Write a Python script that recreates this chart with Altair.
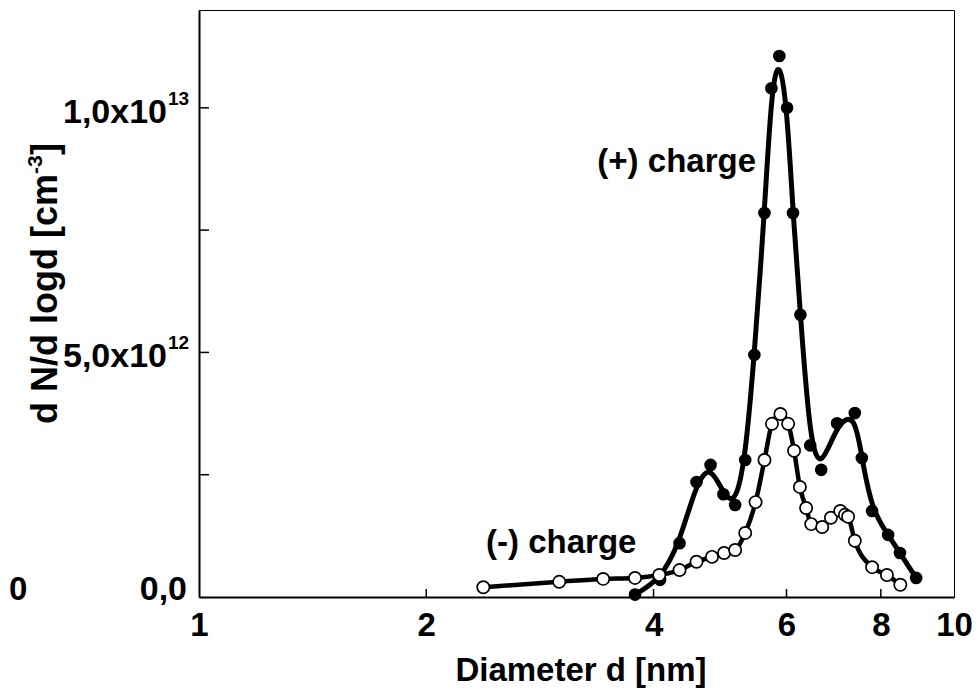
import altair as alt
import pandas as pd

# ---- data ----
# (+) charge: diameter [nm] and dN/dlogd [1e12 cm^-3]
pos_d = [3.78, 4.08, 4.33, 4.56, 4.76, 4.95, 5.13, 5.29, 5.44, 5.61, 5.73, 5.87,
         6.01, 6.12, 6.26, 6.45, 6.67, 7.00, 7.39, 7.55, 7.79, 8.18, 8.48, 8.91]
pos_v = [0.05, 0.35, 1.10, 2.35, 2.70, 2.10, 1.88, 2.80, 4.95, 7.85, 10.40, 11.06,
         10.00, 7.85, 5.77, 3.10, 2.60, 3.55, 3.76, 2.84, 1.76, 1.27, 0.90, 0.39]
# (-) charge
neg_d = [2.38, 3.00, 3.43, 3.78, 4.07, 4.33, 4.56, 4.78, 4.96, 5.13, 5.29, 5.46,
         5.61, 5.74, 5.89, 6.03, 6.14, 6.25, 6.37, 6.47, 6.69, 6.87, 7.07, 7.17,
         7.24, 7.39, 7.79, 8.15, 8.49]
neg_v = [0.20, 0.31, 0.37, 0.39, 0.45, 0.55, 0.72, 0.82, 0.90, 0.96, 1.31, 1.94,
         2.80, 3.54, 3.74, 3.54, 2.99, 2.25, 1.82, 1.49, 1.43, 1.62, 1.76, 1.68,
         1.64, 1.15, 0.61, 0.45, 0.25]

x_tick_labels = [1, 2, 4, 6, 8, 10]
x_inner_ticks = [2, 4, 6, 8]
y_inner_ticks = [2.5e12, 5.0e12, 7.5e12, 1.0e13]
y_label_vals = [5.0e12, 1.0e13]
y_label_main = ["5,0x10", "1,0x10"]
y_label_sup = ["12", "13"]
y_zero_label = "0,0"

ann_text = ["(+) charge", "(-) charge"]
ann_d = [3.37, 2.40]
ann_v = [8.69e12, 0.90e12]

x_title = "Diameter d [nm]"
y_title_main = "d N/d logd [cm"
y_title_sup = "-3"
y_title_end = "]"

# ---- build ----
FONT = "Liberation Sans"
W, H = 755, 587

pos = pd.DataFrame({"d": pos_d, "v": [v * 1e12 for v in pos_v]})
neg = pd.DataFrame({"d": neg_d, "v": [v * 1e12 for v in neg_v]})

xs = alt.Scale(type="log", domain=[1, 10], nice=False)
ys = alt.Scale(domain=[0, 1.2e13], nice=False, zero=False)

xenc = alt.X("d:Q", scale=xs, axis=alt.Axis(
    values=x_tick_labels, format="d", ticks=False, grid=False,
    domainColor="black", domainWidth=2, labelFont=FONT, labelFontSize=33,
    labelFontWeight="bold", labelColor="black", labelPadding=12,
    labelOverlap=False, labelFlush=False, title=None))
yenc = alt.Y("v:Q", scale=ys, axis=alt.Axis(
    labels=False, ticks=False, grid=False, domainColor="black",
    domainWidth=2, title=None))
xq = alt.X("d:Q", scale=xs)
yq = alt.Y("v:Q", scale=ys)

line_pos = alt.Chart(pos).mark_line(
    interpolate="basis", color="black", strokeWidth=5).encode(x=xenc, y=yenc)
pts_pos = alt.Chart(pos).mark_circle(
    size=160, color="black", opacity=1).encode(x=xq, y=yq)
line_neg = alt.Chart(neg).mark_line(
    interpolate="monotone", color="black", strokeWidth=4.5).encode(x=xq, y=yq)
pts_neg = alt.Chart(neg).mark_point(
    shape="circle", size=150, filled=True, fill="white", stroke="black",
    strokeWidth=1.7, opacity=1).encode(x=xq, y=yq)

xt = alt.Chart(pd.DataFrame({"d": x_inner_ticks})).mark_rule(
    color="black", strokeWidth=1.5).encode(
    x=xq, y=alt.value(H), y2=alt.value(H - 8))
yt = alt.Chart(pd.DataFrame({"v": y_inner_ticks})).mark_rule(
    color="black", strokeWidth=1.5).encode(
    y=yq, x=alt.value(0), x2=alt.value(10))

ylab_df = pd.DataFrame({"v": y_label_vals, "main": y_label_main, "sup": y_label_sup})
ylab_main = alt.Chart(ylab_df).mark_text(
    align="right", baseline="alphabetic", font=FONT, fontSize=34,
    fontWeight="bold", color="black", dy=15).encode(
    x=alt.value(-32), y=yq, text="main:N")
ylab_sup = alt.Chart(ylab_df).mark_text(
    align="left", baseline="alphabetic", font=FONT, fontSize=19,
    fontWeight="bold", color="black", dy=-3).encode(
    x=alt.value(-31), y=yq, text="sup:N")
ylab_zero = alt.Chart(pd.DataFrame({"v": [0.0], "t": [y_zero_label]})).mark_text(
    align="right", baseline="alphabetic", font=FONT, fontSize=34,
    fontWeight="bold", color="black", dy=3).encode(
    x=alt.value(-12), y=yq, text="t:N")

ann = alt.Chart(pd.DataFrame({"d": ann_d, "v": ann_v, "t": ann_text})).mark_text(
    align="left", baseline="alphabetic", font=FONT, fontSize=33,
    fontWeight="bold", color="black").encode(x=xq, y=yq, text="t:N")

xtitle = alt.Chart(pd.DataFrame({"t": [x_title]})).mark_text(
    align="center", baseline="alphabetic", font=FONT, fontSize=33,
    fontWeight="bold", color="black").encode(
    x=alt.value(382), y=alt.value(671), text="t:N")

yt_main = alt.Chart(pd.DataFrame({"t": [y_title_main]})).mark_text(
    align="left", baseline="alphabetic", font=FONT, fontSize=36, angle=270,
    fontWeight="bold", color="black").encode(
    x=alt.value(-142), y=alt.value(414), text="t:N")
yt_sup = alt.Chart(pd.DataFrame({"t": [y_title_sup]})).mark_text(
    align="left", baseline="alphabetic", font=FONT, fontSize=21, angle=270,
    fontWeight="bold", color="black").encode(
    x=alt.value(-157), y=alt.value(414 - 250), text="t:N")
yt_end = alt.Chart(pd.DataFrame({"t": [y_title_end]})).mark_text(
    align="left", baseline="alphabetic", font=FONT, fontSize=36, angle=270,
    fontWeight="bold", color="black").encode(
    x=alt.value(-142), y=alt.value(414 - 250 - 19), text="t:N")

edge_zero = alt.Chart(pd.DataFrame({"t": ["0"]})).mark_text(
    align="left", baseline="alphabetic", font=FONT, fontSize=33,
    fontWeight="bold", color="black").encode(
    x=alt.value(-190), y=alt.value(590), text="t:N")

chart = alt.layer(
    line_pos, pts_pos, line_neg, pts_neg, xt, yt,
    ylab_main, ylab_sup, ylab_zero, ann, xtitle, yt_main, yt_sup, yt_end, edge_zero
).properties(
    width=W, height=H,
    autosize=alt.AutoSizeParams(type="none"),
    padding={"left": 191, "top": 2, "right": 18, "bottom": 91},
    background="white",
).configure_view(stroke="black", strokeWidth=1)

chart.save("out.html", embed_options={"renderer": "svg", "actions": False})
